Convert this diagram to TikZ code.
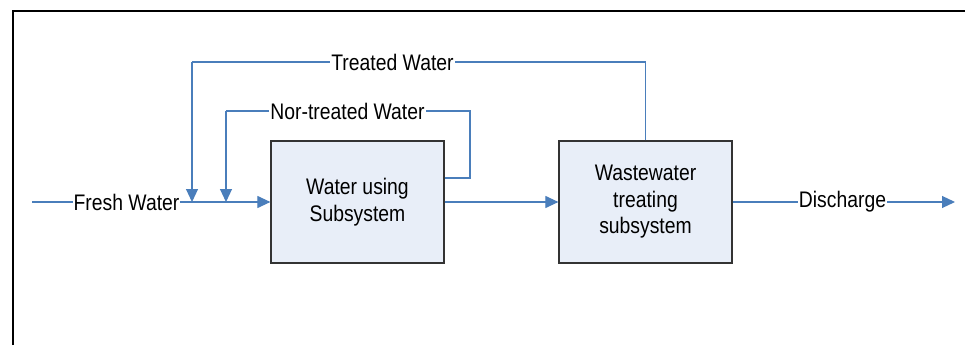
\documentclass[tikz,border=0pt]{standalone}
\usepackage{fontspec}
\setmainfont{Liberation Sans}[FakeStretch=0.86]
\usetikzlibrary{arrows.meta,calc}
\definecolor{flowblue}{HTML}{4A7EBB}
\definecolor{boxfill}{HTML}{E8EEF8}
\definecolor{boxline}{HTML}{333333}
\tikzset{
  flow/.style={draw=flowblue, line width=1.1pt},
  flowarrow/.style={flow, -{Triangle[length=13pt,width=12pt]}, fill=flowblue},
  unitbox/.style={draw=boxline, fill=boxfill, line width=1.2pt,
    minimum width=173pt, minimum height=122pt, align=center,
    font=\fontsize{22.5}{26.5}\selectfont, inner sep=0pt},
  flowlabel/.style={fill=white, inner sep=1pt,
    font=\fontsize{22.5}{26.5}\selectfont},
}
\begin{document}
\begin{tikzpicture}[x=1pt,y=-1pt]
  \useasboundingbox (0,0) rectangle (965,345);
  % outer frame (top and left edges)
  \draw[line width=2.5pt, black] (13,345) -- (13,11) -- (965,11);

  % process units
  \node[unitbox] (wu) at (357.5,202) {Water using\\Subsystem};
  \node[unitbox] (wt) at (645.5,202) {Wastewater\\treating\\subsystem};

  % junctions and free ends
  \coordinate (fs) at (32,202);
  \coordinate (j1) at (192,202);
  \coordinate (j2) at (226,202);
  \coordinate (dis) at (955,202);
  \coordinate (t1) at (192,62);
  \coordinate (n0) at ($(wu.east)+(0,-24)$);
  \coordinate (n1) at (470,111);
  \coordinate (n2) at (226,111);

  % fresh water feed
  \draw[flowarrow] (fs) -- (wu.west);
  \node[flowlabel] (lf) at (126.5,202) {Fresh Water};

  % unit to treatment
  \draw[flowarrow] (wu.east) -- (wt.west);

  % discharge
  \draw[flowarrow] (wt.east) -- (dis);
  \node[flowlabel] (ld) at (842.5,202) {Discharge};

  % treated water recycle
  \draw[flow] (wt.north) |- (t1);
  \draw[flowarrow] (t1) -- (j1);
  \node[flowlabel] (lt) at (392.5,62) {Treated Water};

  % non-treated water recycle
  \draw[flow] (n0) -| (n1) -- (n2);
  \draw[flowarrow] (n2) -- (j2);
  \node[flowlabel] (ln) at (347.5,111) {Nor-treated Water};
\end{tikzpicture}
\end{document}
